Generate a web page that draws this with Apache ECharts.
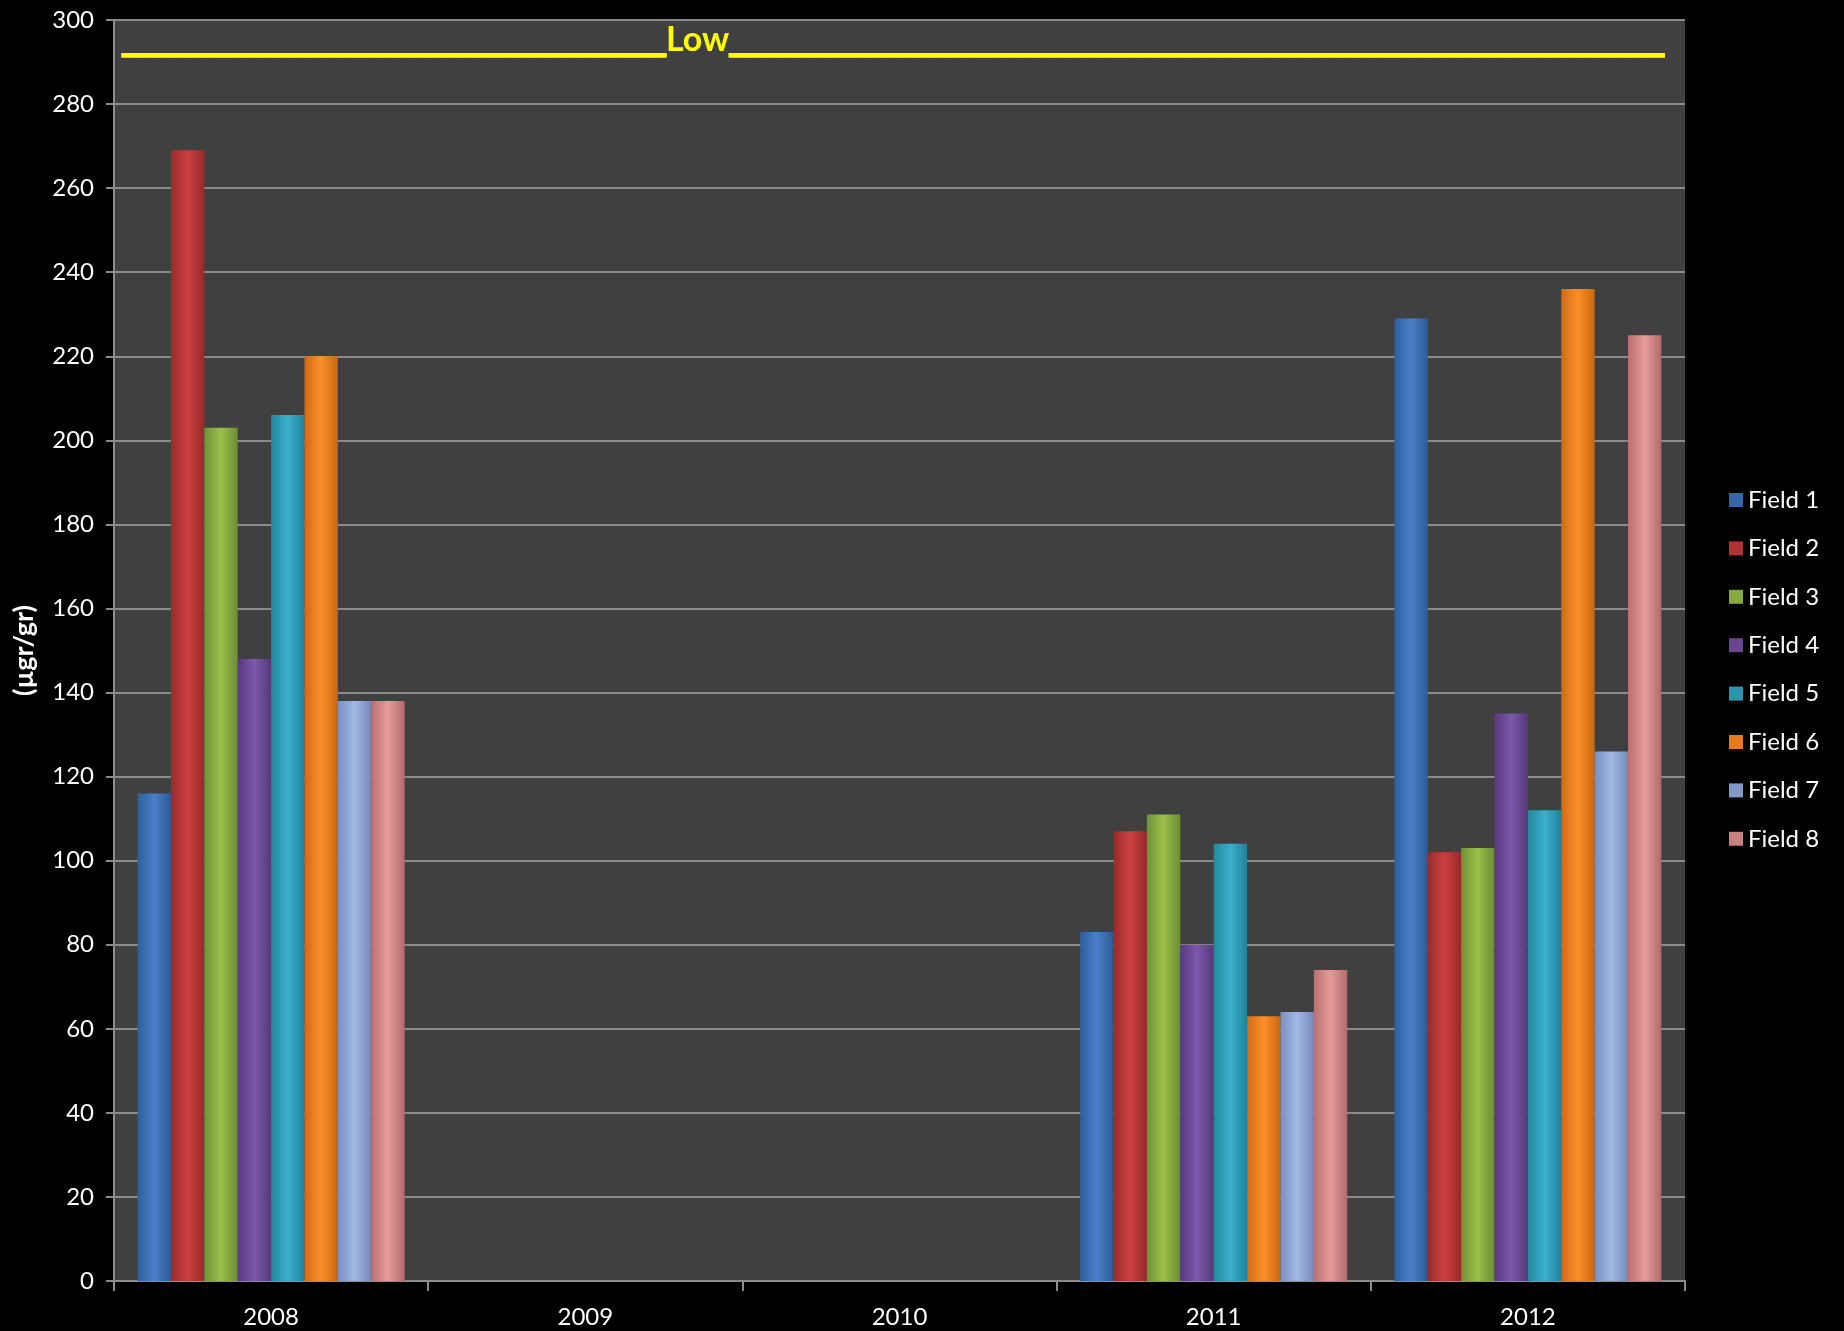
<!DOCTYPE html>
<html>
<head>
<meta charset="utf-8">
<script src="https://cdn.jsdelivr.net/npm/echarts@6/dist/echarts.min.js"></script>
<style>html,body{margin:0;padding:0;background:#000;}#c{width:1844px;height:1331px;}</style>
</head>
<body>
<div id="c"></div>
<script>
const years = ['2008', '2009', '2010', '2011', '2012'];
const fieldNames = ['Field 1', 'Field 2', 'Field 3', 'Field 4', 'Field 5', 'Field 6', 'Field 7', 'Field 8'];
const field1 = [116, null, null, 83, 229];
const field2 = [269, null, null, 107, 102];
const field3 = [203, null, null, 111, 103];
const field4 = [148, null, null, 80, 135];
const field5 = [206, null, null, 104, 112];
const field6 = [220, null, null, 63, 236];
const field7 = [138, null, null, 64, 126];
const field8 = [138, null, null, 74, 225];
const yTicks = [0, 300, 20];
const titleLeft = '_'.repeat(32);
const titleWord = 'Low';
const titleRight = '_'.repeat(55);

const fieldData = [field1, field2, field3, field4, field5, field6, field7, field8];
const colors = [
  ['#2c5f9e', '#4a80c8', '#2c5a94'],
  ['#9a2b2b', '#cc4040', '#952a2a'],
  ['#6f9236', '#9cc04a', '#6c8c34'],
  ['#58397f', '#7e58ac', '#553879'],
  ['#22879f', '#3bb0cc', '#20829a'],
  ['#d06b14', '#fb8f2a', '#c9670f'],
  ['#7890c0', '#a2b8e4', '#7489b8'],
  ['#bb6f6f', '#e69a9a', '#b36a6a']
];
const legendColors = ['#3566a6', '#b03434', '#86a83f', '#674690', '#2c95ae', '#e8791c', '#8299c8', '#c98080'];

const series = fieldData.map((d, i) => ({
  name: fieldNames[i],
  type: 'bar',
  data: d,
  barGap: '0%',
  barCategoryGap: '15%',
  itemStyle: {
    color: new echarts.graphic.LinearGradient(0, 0, 1, 0, [
      {offset: 0, color: colors[i][0]},
      {offset: 0.5, color: colors[i][1]},
      {offset: 1, color: colors[i][2]}
    ])
  }
}));

const chart = echarts.init(document.getElementById('c'));
chart.setOption({
  backgroundColor: '#000000',
  animation: false,
  color: legendColors,
  title: {
    text: '{u|' + titleLeft + '}{w|' + titleWord + '}{u|' + titleRight + '}',
    left: 117,
    top: 18,
    textStyle: {
      color: '#ffff00', fontFamily: 'Lato', fontWeight: 'bold', fontSize: 34,
      rich: {
        u: {color: '#ffff00', fontFamily: 'DejaVu Sans', fontWeight: 'bold', fontSize: 34,
            textBorderColor: '#ffff00', textBorderWidth: 1.5},
        w: {color: '#ffff00', fontFamily: 'Lato', fontWeight: 'bold', fontSize: 34}
      }
    }
  },
  legend: {
    orient: 'vertical',
    left: 1724,
    top: 483,
    itemWidth: 14,
    itemHeight: 14,
    itemGap: 24.4,
    icon: 'rect',
    textStyle: {color: '#ffffff', fontFamily: 'Lato', fontSize: 24},
    data: fieldNames.map((n, i) => ({name: n, itemStyle: {color: legendColors[i]}}))
  },
  grid: {
    left: 114, right: 159, top: 20, bottom: 50,
    show: true, backgroundColor: '#404040', borderWidth: 0,
    containLabel: false
  },
  xAxis: {
    type: 'category',
    data: years,
    axisLine: {show: true, lineStyle: {color: '#8c8c8c', width: 2}},
    axisTick: {show: true, length: 10, lineStyle: {color: '#8c8c8c', width: 2}},
    axisLabel: {color: '#ffffff', fontFamily: 'Lato', fontSize: 24, margin: 24}
  },
  yAxis: {
    type: 'value',
    min: yTicks[0], max: yTicks[1], interval: yTicks[2],
    name: '(µgr/gr)',
    nameLocation: 'middle',
    nameGap: 76,
    nameTextStyle: {color: '#ffffff', fontFamily: 'Lato', fontWeight: 'bold', fontSize: 27},
    axisLine: {show: true, lineStyle: {color: '#8c8c8c', width: 2}},
    axisTick: {show: true, length: 8, lineStyle: {color: '#8c8c8c', width: 2}},
    axisLabel: {color: '#ffffff', fontFamily: 'Lato', fontSize: 24, margin: 20},
    splitLine: {show: true, lineStyle: {color: '#8a8a8a', width: 2}}
  },
  series: series
});
</script>
</body>
</html>
